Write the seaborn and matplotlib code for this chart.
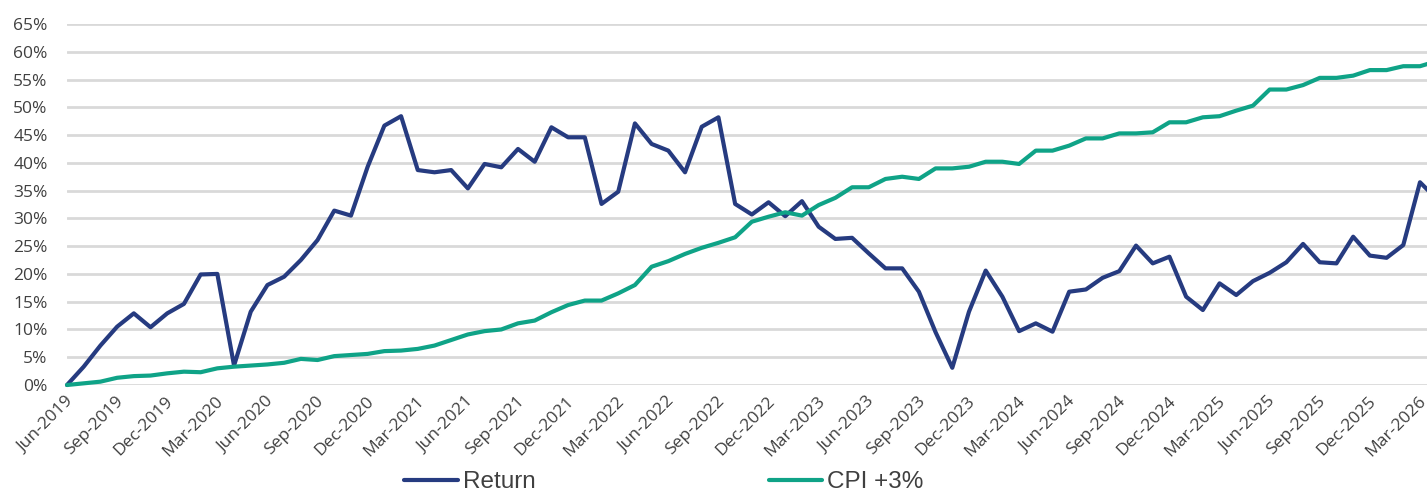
import numpy as np
import pandas as pd
import matplotlib
matplotlib.use("Agg")
import matplotlib.pyplot as plt
import matplotlib.transforms as mtransforms
import seaborn as sns

# monthly values, Jun-2019 .. Apr-2026 (%)
months = pd.date_range("2019-06-01", "2026-04-01", freq="MS")

return_pct = [
    0.0, 3.3, 7.1, 10.5, 12.9, 10.4, 12.9,
    14.6, 19.9, 20.0, 3.5, 13.2, 18.0, 19.5, 22.5, 26.1, 31.4, 30.5, 39.3,
    46.7, 48.4, 38.7, 38.3, 38.7, 35.4, 39.8, 39.2, 42.5, 40.2, 46.4, 44.6,
    44.6, 32.6, 34.8, 47.1, 43.4, 42.2, 38.3, 46.5, 48.2, 32.6, 30.7, 32.9,
    30.4, 33.1, 28.5, 26.3, 26.5, 23.7, 21.0, 21.0, 16.8, 9.5, 3.1, 13.2,
    20.6, 15.9, 9.7, 11.1, 9.6, 16.8, 17.2, 19.3, 20.5, 25.1, 21.9, 23.1,
    15.9, 13.5, 18.3, 16.2, 18.7, 20.2, 22.1, 25.4, 22.1, 21.9, 26.7, 23.3,
    22.9, 25.2, 36.5, 33.5,
]

cpi_pct = [
    0.0, 0.3, 0.6, 1.3, 1.6, 1.7, 2.1,
    2.4, 2.3, 3.0, 3.3, 3.5, 3.7, 4.0, 4.7, 4.5, 5.2, 5.4, 5.6,
    6.1, 6.2, 6.5, 7.1, 8.1, 9.1, 9.7, 10.0, 11.1, 11.6, 13.1, 14.4,
    15.2, 15.2, 16.5, 18.0, 21.3, 22.3, 23.6, 24.7, 25.6, 26.6, 29.4, 30.3,
    31.1, 30.5, 32.4, 33.7, 35.6, 35.6, 37.1, 37.5, 37.1, 39.0, 39.0, 39.3,
    40.2, 40.2, 39.8, 42.2, 42.2, 43.1, 44.4, 44.4, 45.3, 45.3, 45.5, 47.3,
    47.3, 48.2, 48.4, 49.4, 50.3, 53.2, 53.2, 54.0, 55.3, 55.3, 55.7, 56.7,
    56.7, 57.4, 57.4, 58.3,
]

series_names = ["Return", "CPI +3%"]
colors = ["#263b80", "#0fa387"]

df = pd.DataFrame({"idx": np.arange(len(months)),
                   "Return": return_pct, "CPI +3%": cpi_pct})
long = df.melt(id_vars="idx", var_name="series", value_name="value")

sns.set_theme(style="white")
plt.rcParams["font.family"] = ["Open Sans", "DejaVu Sans"]

fig = plt.figure(figsize=(14.27, 4.93), dpi=100)
ax = fig.add_axes([67 / 1427, 1 - 385 / 493, 1 - 67 / 1427, (385 - 24) / 493])

sns.lineplot(data=long, x="idx", y="value", hue="series", hue_order=series_names,
             palette=colors, linewidth=3, ax=ax, legend=False, clip_on=False)

ax.set_xlim(0, 81.42)
ax.set_ylim(0, 65)
ax.set_yticks(np.arange(0, 66, 5))
ax.set_yticklabels([f"{v}%" for v in range(0, 66, 5)])
ax.yaxis.grid(True, color="#d9d9d9", linewidth=2)
ax.set_axisbelow(True)

tick_pos = np.arange(0, 82, 3)
ax.set_xticks(tick_pos)
ax.set_xticklabels([months[i].strftime("%b-%Y") for i in tick_pos],
                   rotation=45, ha="right", rotation_mode="anchor")
ax.tick_params(axis="x", length=0, pad=6, labelsize=12.5, labelcolor="#404040")
ax.tick_params(axis="y", length=0, pad=14, labelsize=12.5, labelcolor="#404040")
shift = mtransforms.ScaledTranslation(-2 / 100, 0, fig.dpi_scale_trans)
for lbl in ax.get_xticklabels():
    lbl.set_transform(lbl.get_transform() + shift)
for s in ax.spines.values():
    s.set_visible(False)
ax.set_xlabel("")
ax.set_ylabel("")

handles = [plt.Line2D([], [], color=c, linewidth=3) for c in colors]
fig.legend(handles, series_names, loc="center", ncol=2, frameon=False,
           bbox_to_anchor=(664 / 1427, 1 - 482 / 493),
           handlelength=2.2, handletextpad=0.2, columnspacing=9.6,
           prop={"family": "Liberation Sans", "size": 17.5}, labelcolor="#404040")

fig.savefig("out.png", dpi=100)
